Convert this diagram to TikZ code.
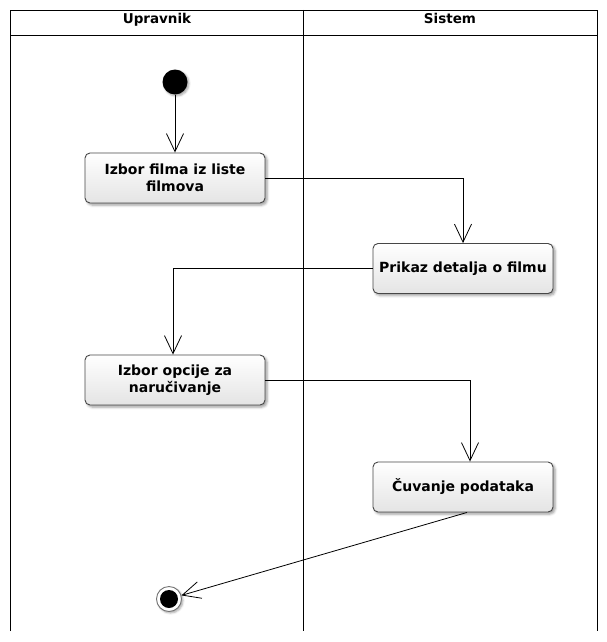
\documentclass[tikz,border=0pt]{standalone}
\usepackage{fontspec}
\setmainfont{DejaVu Sans}
\usetikzlibrary{arrows.meta,shadows.blur}
\definecolor{boxline}{HTML}{474747}
\definecolor{boxbottom}{HTML}{E4E4E4}
\tikzset{
  lane/.style={draw=black, line width=0.9pt},
  lanehead/.style={font=\bfseries\fontsize{13.5}{16}\selectfont, inner sep=0pt, anchor=base},
  action/.style={draw=boxline, line width=0.9pt, rounded corners=5pt,
    minimum width=180pt, minimum height=50pt, inner sep=2pt,
    top color=white, bottom color=boxbottom, align=center,
    font=\bfseries\fontsize{14}{16.5}\selectfont,
    blur shadow={shadow xshift=2pt, shadow yshift=-2pt,
      shadow blur radius=2.5pt, shadow opacity=40}},
  flow/.style={draw=black, line width=0.8pt,
    -{Straight Barb[length=18pt, width=17pt, line width=0.8pt]}},
  initial/.style={circle, fill=black, minimum size=25pt, inner sep=0pt,
    blur shadow={shadow xshift=1.5pt, shadow yshift=-1.5pt,
      shadow blur radius=2pt, shadow opacity=35}},
  finalring/.style={circle, fill=white, draw=black!55, line width=0.9pt,
    minimum size=25pt, inner sep=0pt,
    blur shadow={shadow xshift=1.5pt, shadow yshift=-1.5pt,
      shadow blur radius=2pt, shadow opacity=35}},
  finaldot/.style={circle, fill=black, minimum size=18pt, inner sep=0pt}
}
\begin{document}
\begin{tikzpicture}[x=1pt, y=-1pt]
  \useasboundingbox (0,0) rectangle (606,642);

  % swimlanes
  \draw[lane] (10,631) -- (10,10) -- (597,10) -- (597,631);
  \draw[lane] (10,35) -- (597,35);
  \draw[lane] (303,10) -- (303,631);
  \node[lanehead] (laneA) at (157,23.5) {Upravnik};
  \node[lanehead] (laneB) at (450,23.5) {Sistem};

  % activity nodes
  \node[initial] (start) at (175,82) {};
  \node[action] (a1) at (175,178) {Izbor filma iz liste\\filmova};
  \node[action] (a2) at (463,268.5) {Prikaz detalja o filmu};
  \node[action] (a3) at (175,380) {Izbor opcije za\\naručivanje};
  \node[action] (a4) at (463,487) {Čuvanje podataka};
  \node[finalring] (stop) at (169,599) {};
  \node[finaldot] (stopdot) at (stop.center) {};

  % control flow
  \coordinate (a3in) at ([xshift=-2pt]a3.north);
  \coordinate (a4in) at ([xshift=7pt]a4.north);
  \coordinate (a4out) at ([xshift=4pt]a4.south);
  \draw[flow] (start) -- (a1.north);
  \draw[flow] (a1.east) -| (a2.north);
  \draw[flow] (a2.west) -| (a3in);
  \draw[flow] (a3.east) -| (a4in);
  \draw[flow] (a4out) -- (stop);
\end{tikzpicture}
\end{document}
